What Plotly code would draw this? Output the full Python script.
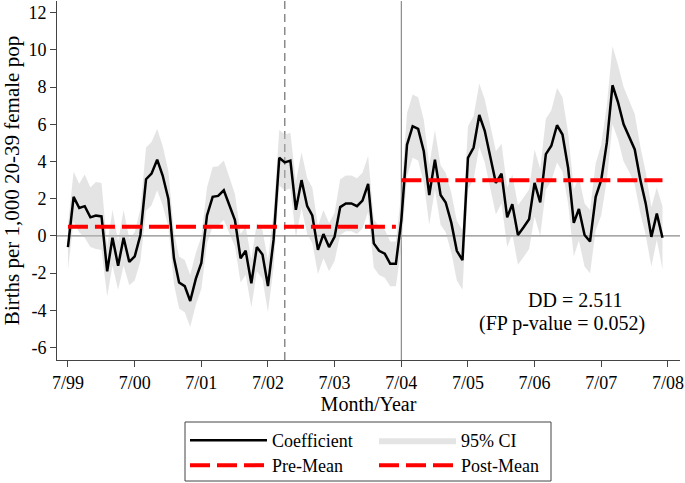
import plotly.graph_objects as go
import pandas as pd

# Monthly coefficient estimates, 7/1999 .. 6/2008
coef = [
    -0.6, 2.1, 1.5, 1.6, 1.0, 1.1, 1.05, -1.9, -0.1, -1.6, -0.1, -1.4,
    -1.1, 0.05, 3.05, 3.35, 4.1, 3.25, 2.0, -1.2, -2.5, -2.7, -3.5, -2.3,
    -1.45, 1.1, 2.1, 2.15, 2.45, 1.65, 0.85, -1.2, -0.8, -2.55, -0.6, -1.0,
    -2.7, -0.2, 4.2, 3.95, 4.05, 1.4, 3.0, 1.6, 1.1, -0.75, 0.1, -0.6,
    -0.05, 1.55, 1.75, 1.75, 1.6, 1.9, 2.8, -0.4, -0.8, -0.95, -1.5, -1.5,
    0.85, 4.9, 5.9, 5.75, 4.55, 2.2, 4.1, 2.2, 1.8, 0.7, -0.8, -1.3,
    4.2, 4.75, 6.5, 5.65, 4.25, 2.85, 3.35, 1.0, 1.7, 0.05, 0.45, 0.9,
    2.85, 1.8, 4.4, 4.85, 5.95, 5.45, 3.65, 0.7, 1.45, 0.05, -0.3, 2.1,
    3.0, 5.0, 8.1, 7.2, 6.0, 5.35, 4.65, 3.0, 1.75, -0.05, 1.2, -0.1,
]

# Half-width of the 95% confidence interval
ci_half = [
    1.2, 1.35, 1.3, 1.7, 1.6, 1.8, 1.8, 1.35, 1.5, 1.3, 1.5, 1.25,
    1.3, 1.4, 1.7, 1.7, 1.65, 1.6, 1.5, 1.4, 1.4, 1.4, 1.4, 1.4,
    1.4, 1.5, 1.6, 1.6, 1.6, 1.5, 1.4, 1.3, 1.3, 1.3, 1.3, 1.3,
    1.4, 1.5, 1.5, 1.5, 1.5, 1.5, 1.5, 1.5, 1.5, 1.3, 1.3, 1.3,
    1.3, 1.5, 1.5, 1.5, 1.5, 1.5, 1.5, 1.3, 1.3, 1.3, 1.2, 1.2,
    1.5, 1.7, 1.7, 1.7, 1.7, 1.6, 1.6, 1.6, 1.6, 1.6, 1.6, 1.6,
    1.7, 1.7, 1.7, 1.7, 1.7, 1.7, 1.6, 1.6, 1.6, 1.6, 1.6, 1.6,
    1.8, 1.8, 1.9, 1.9, 2.0, 2.0, 1.9, 1.8, 1.7, 1.7, 1.7, 1.8,
    1.9, 2.0, 2.1, 2.0, 2.0, 1.9, 1.9, 1.8, 1.7, 1.6, 1.4, 1.7,
]

pre_mean = 0.5
post_mean = 3.0
treat_start = "2004-07-01"
placebo_date = "2002-10-01"

tick_dates = ["1999-07-01", "2000-07-01", "2001-07-01", "2002-07-01", "2003-07-01",
              "2004-07-01", "2005-07-01", "2006-07-01", "2007-07-01", "2008-07-01"]
tick_labels = ["7/99", "7/00", "7/01", "7/02", "7/03", "7/04", "7/05", "7/06", "7/07", "7/08"]
y_ticks = [-6, -4, -2, 0, 2, 4, 6, 8, 10, 12]
y_tick_labels = ["-6", "-4", "-2", "0", "2", "4", "6", "8", "10", "12"]

months = pd.date_range("1999-07-01", periods=len(coef), freq="MS")
lo = [c - h for c, h in zip(coef, ci_half)]
hi = [c + h for c, h in zip(coef, ci_half)]
pre_months = [m for m in months if m < pd.Timestamp(treat_start)]
post_months = [m for m in months if m >= pd.Timestamp(treat_start)]

FONT = "Liberation Serif"
GRAY = "#8a8a8a"

# plot area in pixels
L, R, T, B = 57, 680, 1, 360
PW, PH = R - L, B - T


def px(xp):
    return (xp - L) / PW


def py(yp):
    return (B - yp) / PH


fig = go.Figure()
fig.add_trace(go.Scatter(x=months, y=lo, mode="lines", line=dict(width=0, color="rgba(0,0,0,0)"),
                         showlegend=False, hoverinfo="skip"))
fig.add_trace(go.Scatter(x=months, y=hi, mode="lines", line=dict(width=0, color="rgba(0,0,0,0)"),
                         fill="tonexty", fillcolor="rgba(190,190,190,0.42)",
                         name="95% CI", legend="legend", legendrank=2))
fig.add_trace(go.Scatter(x=months, y=coef, mode="lines", line=dict(color="black", width=2.5),
                         name="Coefficient", legend="legend", legendrank=1))
fig.add_trace(go.Scatter(x=[pre_months[0], pre_months[-1]], y=[pre_mean, pre_mean], mode="lines",
                         line=dict(color="#ff0000", width=4, dash="20px,7px"),
                         name="Pre-Mean", legend="legend2", legendrank=1))
fig.add_trace(go.Scatter(x=[post_months[0], post_months[-1]], y=[post_mean, post_mean], mode="lines",
                         line=dict(color="#ff0000", width=4, dash="20px,7px"),
                         name="Post-Mean", legend="legend2", legendrank=2))

shapes = [
    dict(type="line", xref="paper", x0=0, x1=1, yref="y", y0=0, y1=0,
         line=dict(color=GRAY, width=1.2), layer="below"),
    dict(type="line", xref="x", x0=treat_start, x1=treat_start, yref="paper", y0=0, y1=1,
         line=dict(color=GRAY, width=1.2), layer="below"),
    dict(type="line", xref="x", x0=placebo_date, x1=placebo_date, yref="paper", y0=0, y1=1,
         line=dict(color=GRAY, width=1.5, dash="8px,5px"), layer="below"),
    dict(type="rect", xref="paper", yref="paper", x0=px(185), x1=px(551),
         y0=py(481), y1=py(422), line=dict(color="#444444", width=1)),
]

legend_common = dict(orientation="h", xanchor="left", yanchor="top", itemwidth=77,
                     entrywidth=97, bgcolor="rgba(0,0,0,0)", traceorder="normal",
                     font=dict(family=FONT, size=18, color="black"))

fig.update_layout(
    width=685, height=483,
    margin=dict(l=L, r=685 - R, t=T, b=483 - B, autoexpand=False),
    paper_bgcolor="white", plot_bgcolor="white",
    font=dict(family=FONT, size=18, color="black"),
    shapes=shapes,
    legend=dict(x=px(185), y=py(422), **legend_common),
    legend2=dict(x=px(185), y=py(447), **legend_common),
    annotations=[
        dict(text="DD = 2.511", xref="paper", yref="paper", x=px(575), y=py(300),
             xanchor="center", yanchor="middle",
             showarrow=False, font=dict(family=FONT, size=20, color="black")),
        dict(text="(FP p-value = 0.052)", xref="paper", yref="paper", x=px(562), y=py(323),
             xanchor="center", yanchor="middle",
             showarrow=False, font=dict(family=FONT, size=20, color="black")),
    ],
    xaxis=dict(range=["1999-05-02", "2008-09-05"], tickvals=tick_dates, ticktext=tick_labels,
               ticks="outside", ticklen=6, tickcolor="#444", showline=True, linecolor="#444",
               showgrid=False, zeroline=False, tickfont=dict(size=18), automargin=False,
               title=dict(text="Month/Year", font=dict(size=20), standoff=4)),
    yaxis=dict(range=[-6.67, 12.63], tickvals=y_ticks, ticktext=y_tick_labels,
               ticks="outside", ticklen=6, tickcolor="#444", showline=True, linecolor="#444",
               showgrid=False, zeroline=False, tickfont=dict(size=18), automargin=False,
               title=dict(text="Births per 1,000 20-39 female pop", font=dict(size=21), standoff=6)),
)

fig.write_html("out.html", config={"displayModeBar": False},
               post_script="document.body.style.margin='0px';")
